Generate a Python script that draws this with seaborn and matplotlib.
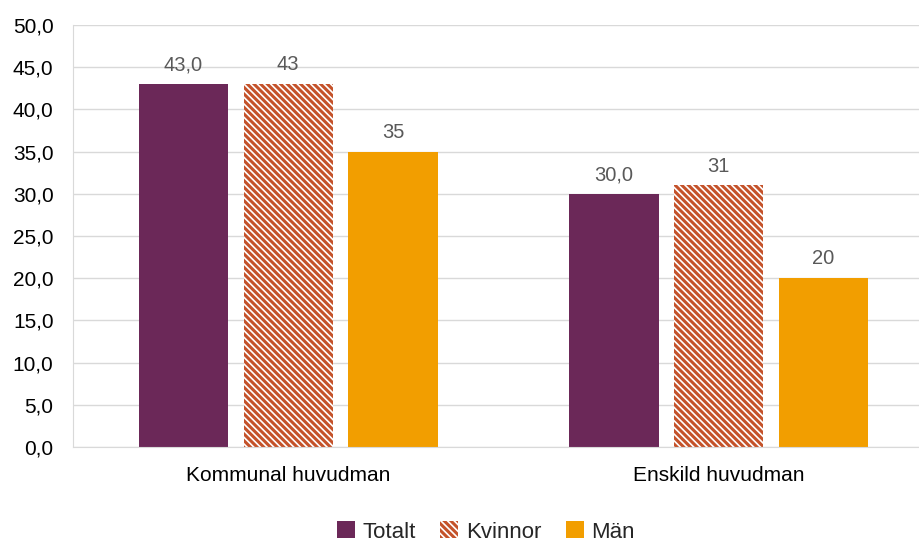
import pandas as pd
import matplotlib
matplotlib.use("Agg")
import matplotlib.pyplot as plt
import seaborn as sns
from matplotlib.patches import Patch

categories = ['Kommunal huvudman', 'Enskild huvudman']
series = ['Totalt', 'Kvinnor', 'Män']
totalt = [43.0, 30.0]
kvinnor = [43, 31]
man = [35, 20]
labels_totalt = ['43,0', '30,0']
labels_kvinnor = ['43', '31']
labels_man = ['35', '20']
yticks = [0, 5, 10, 15, 20, 25, 30, 35, 40, 45, 50]

df = pd.DataFrame({
    'Huvudman': categories * 3,
    'Grupp': ['Totalt'] * 2 + ['Kvinnor'] * 2 + ['Män'] * 2,
    'Värde': totalt + kvinnor + man,
})

colors = {'Totalt': '#6B2858', 'Kvinnor': '#C4522A', 'Män': '#F29E00'}
hatch = '\\' * 5

sns.set_style("white")
plt.rcParams['font.family'] = ['Liberation Sans', 'DejaVu Sans']
plt.rcParams['hatch.color'] = '#FBE6DC'
plt.rcParams['hatch.linewidth'] = 1.2

fig = plt.figure(figsize=(9.2, 5.43), dpi=100)
ax = fig.add_axes([73 / 920, 1 - 447 / 543, 861 / 920, 422 / 543])

sns.barplot(
    data=df, x='Huvudman', y='Värde', hue='Grupp',
    hue_order=series, palette=colors,
    width=0.73, gap=0.15, ax=ax, legend=False,
    linewidth=0, saturation=1,
)

containers = ax.containers
for bar in containers[1]:
    bar.set_hatch(hatch)
    bar.set_linewidth(0)

for cont, labs in zip(containers, [labels_totalt, labels_kvinnor, labels_man]):
    ax.bar_label(cont, labels=labs, padding=7, fontsize=14.5, color='#595959')

ax.set_xlim(-0.5, 1.5)
ax.set_ylim(0, 50)
ax.set_yticks(yticks)
ax.set_yticklabels([f"{v:.1f}".replace('.', ',') for v in yticks])
ax.yaxis.grid(True, color='#D9D9D9', linewidth=1)
ax.set_axisbelow(True)
ax.set_xlabel('')
ax.set_ylabel('')
ax.tick_params(axis='both', labelsize=15, colors='black', length=0)
ax.tick_params(axis='y', pad=14)
ax.tick_params(axis='x', pad=14)
for s in ['top', 'right']:
    ax.spines[s].set_visible(False)
ax.spines['left'].set_color('#D9D9D9')
ax.spines['bottom'].set_color('#D9D9D9')

handles = [
    Patch(facecolor=colors['Totalt'], edgecolor='none', label='Totalt'),
    Patch(facecolor=colors['Kvinnor'], hatch=hatch, linewidth=0, label='Kvinnor'),
    Patch(facecolor=colors['Män'], edgecolor='none', label='Män'),
]
fig.legend(handles=handles, loc='center', bbox_to_anchor=(486 / 920, 1 - 532 / 543),
           ncol=3, frameon=False, fontsize=16, handlelength=0.8, handleheight=0.8,
           handletextpad=0.35, columnspacing=1.1)

fig.savefig('out.png', dpi=100)
